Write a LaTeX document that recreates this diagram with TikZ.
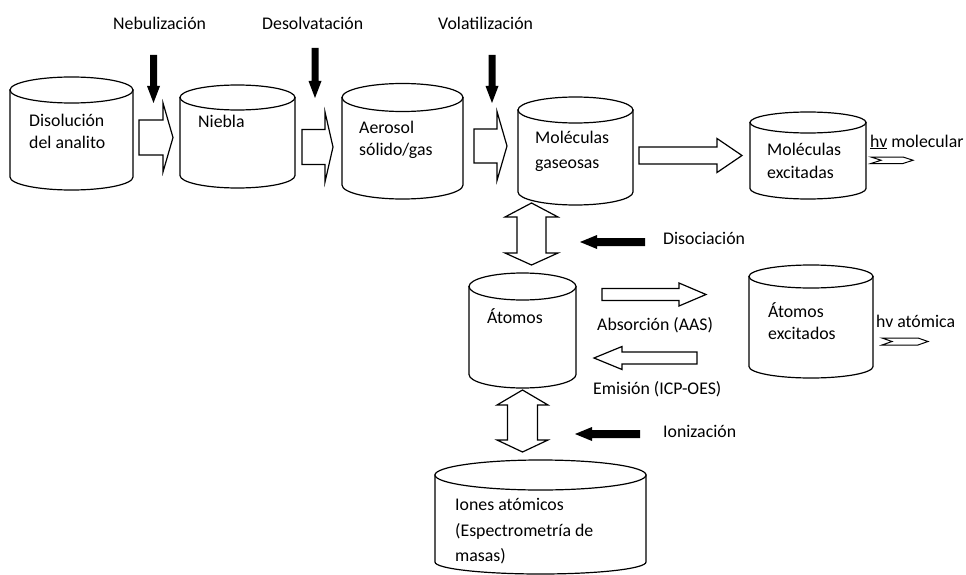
\documentclass[tikz,border=0pt]{standalone}
\usepackage{fontspec}
\setmainfont{Carlito}
\newcommand\cyl[6]{%
  \pgfmathsetmacro\cylcx{(#1+#2)/2}%
  \pgfmathsetmacro\cylrx{(#2-#1)/2}%
  \draw[cylst] (#1,#3) -- (#1,#4) arc[start angle=180,end angle=0,x radius=\cylrx,y radius=#6] -- (#2,#3) -- cycle;
  \draw[cylst] (\cylcx,#3) ellipse[x radius=\cylrx,y radius=#5];
}
% tail x, base x, tip x, centre y, shaft half, head half
\newcommand\harrow[6]{%
  \draw[blk] (#1,#4-#5) -- (#2,#4-#5) -- (#2,#4-#6) -- (#3,#4) -- (#2,#4+#6) -- (#2,#4+#5) -- (#1,#4+#5) -- cycle;
}
% centre x, shaft half, head half, top tip, top base, bottom base, bottom tip
\newcommand\darrow[7]{%
  \draw[blk] (#1,#4) -- (#1+#3,#5) -- (#1+#2,#5) -- (#1+#2,#6) -- (#1+#3,#6) -- (#1,#7) -- (#1-#3,#6) -- (#1-#2,#6) -- (#1-#2,#5) -- (#1-#3,#5) -- cycle;
}
% black down arrow: centre x, y start, y tip
\newcommand\bdown[3]{%
  \fill[black] (#1-3.5,#2) -- (#1+3.5,#2) -- (#1+3.5,#3-17) -- (#1+6.5,#3-17) -- (#1,#3) -- (#1-6.5,#3-17) -- (#1-3.5,#3-17) -- cycle;
}
% black left arrow: tip x, tail x, y
\newcommand\bleft[3]{%
  \fill[black] (#1,#3) -- (#1+17,#3-7) -- (#1+17,#3-4) -- (#2,#3-4) -- (#2,#3+4) -- (#1+17,#3+4) -- (#1+17,#3+7) -- cycle;
}
% notched photon arrow: x0, x1, ytop, ybot
\newcommand\hvarrow[4]{%
  \draw[blk,line width=1pt] (#1,#3) -- (#2-10,#3) -- (#2,#3/2+#4/2) -- (#2-10,#4) -- (#1,#4) -- (#1+10,#3/2+#4/2) -- cycle;
}
\begin{document}
\begin{tikzpicture}[x=1pt,y=-1pt,
  cylst/.style={draw=black,fill=white,line width=1.2pt},
  blk/.style={draw=black,fill=white,line width=1.2pt,line join=miter},
  lbl/.style={anchor=base west,inner sep=0pt,font=\fontsize{17.8}{22}\selectfont}]
\useasboundingbox (0,0) rectangle (966,575);
\fill[white] (0,0) rectangle (966,575);

% cylinders
\cyl{10}{133}{90}{177}{13}{13}
\cyl{180}{295}{97.5}{175.5}{12.5}{12.5}
\cyl{342}{463}{97.5}{185}{14}{14}
\cyl{518}{633}{110}{192}{13}{13}
\cyl{750}{866}{122.5}{188.5}{10.5}{10.5}
\cyl{469}{576}{286.5}{374.5}{13.5}{13.5}
\cyl{749}{873}{276.5}{366.5}{11.5}{11.5}
\cyl{435}{646}{475}{562}{15}{12}

% white block arrows
\harrow{139}{163}{173}{137.5}{17.5}{34.5}
\harrow{302}{325}{333}{147}{17.5}{35}
\harrow{474}{497}{507}{146}{17}{34.5}
\harrow{639}{717}{742}{155.5}{8.5}{17}
\harrow{602}{679}{706}{294.5}{6}{11.5}
\harrow{697}{622}{594}{358}{6}{11.5}
\darrow{531.5}{14.5}{26.5}{203}{217}{253}{265}
\darrow{522.5}{15}{25.5}{390}{405}{440}{452}

% black arrows
\bdown{153.5}{55}{103}
\bdown{315}{48}{98}
\bdown{492}{55}{103}
\bleft{580}{645}{242}
\bleft{575}{640}{434}

% photon arrows
\hvarrow{871}{913}{157}{163.5}
\hvarrow{882}{928}{338}{345}

% labels
\node[lbl] (neb) at (113,30) {Nebulización};
\node[lbl] (des) at (262,30) {Desolvatación};
\node[lbl] (vol) at (438,30) {Volatilización};
\node[lbl] (dis1) at (29,127) {Disolución};
\node[lbl] (dis2) at (29,149) {del analito};
\node[lbl] (nie) at (198,128) {Niebla};
\node[lbl] (aer1) at (359,133) {Aerosol};
\node[lbl] (aer2) at (359,155) {sólido/gas};
\node[lbl] (mg1) at (535,143) {Moléculas};
\node[lbl] (mg2) at (535,168) {gaseosas};
\node[lbl] (me1) at (767,156) {Moléculas};
\node[lbl] (me2) at (767,178) {excitadas};
\node[lbl] (at) at (487,323) {Átomos};
\node[lbl] (ae1) at (768,317) {Átomos};
\node[lbl] (ae2) at (768,339) {excitados};
\node[lbl] (io1) at (455,510) {Iones atómicos};
\node[lbl] (io2) at (455,536) {(Espectrometría de};
\node[lbl] (io3) at (455,561) {masas)};
\node[lbl] (abs) at (597,330) {Absorción (AAS)};
\node[lbl] (emi) at (593,394) {Emisión (ICP-OES)};
\node[lbl] (diso) at (663,244) {Disociación};
\node[lbl] (ioni) at (663,437) {Ionización};
\node[lbl] (hvm) at (870,147) {\underline{hv} molecular};
\node[lbl] (hva) at (876,327) {hv atómica};
\end{tikzpicture}
\end{document}
